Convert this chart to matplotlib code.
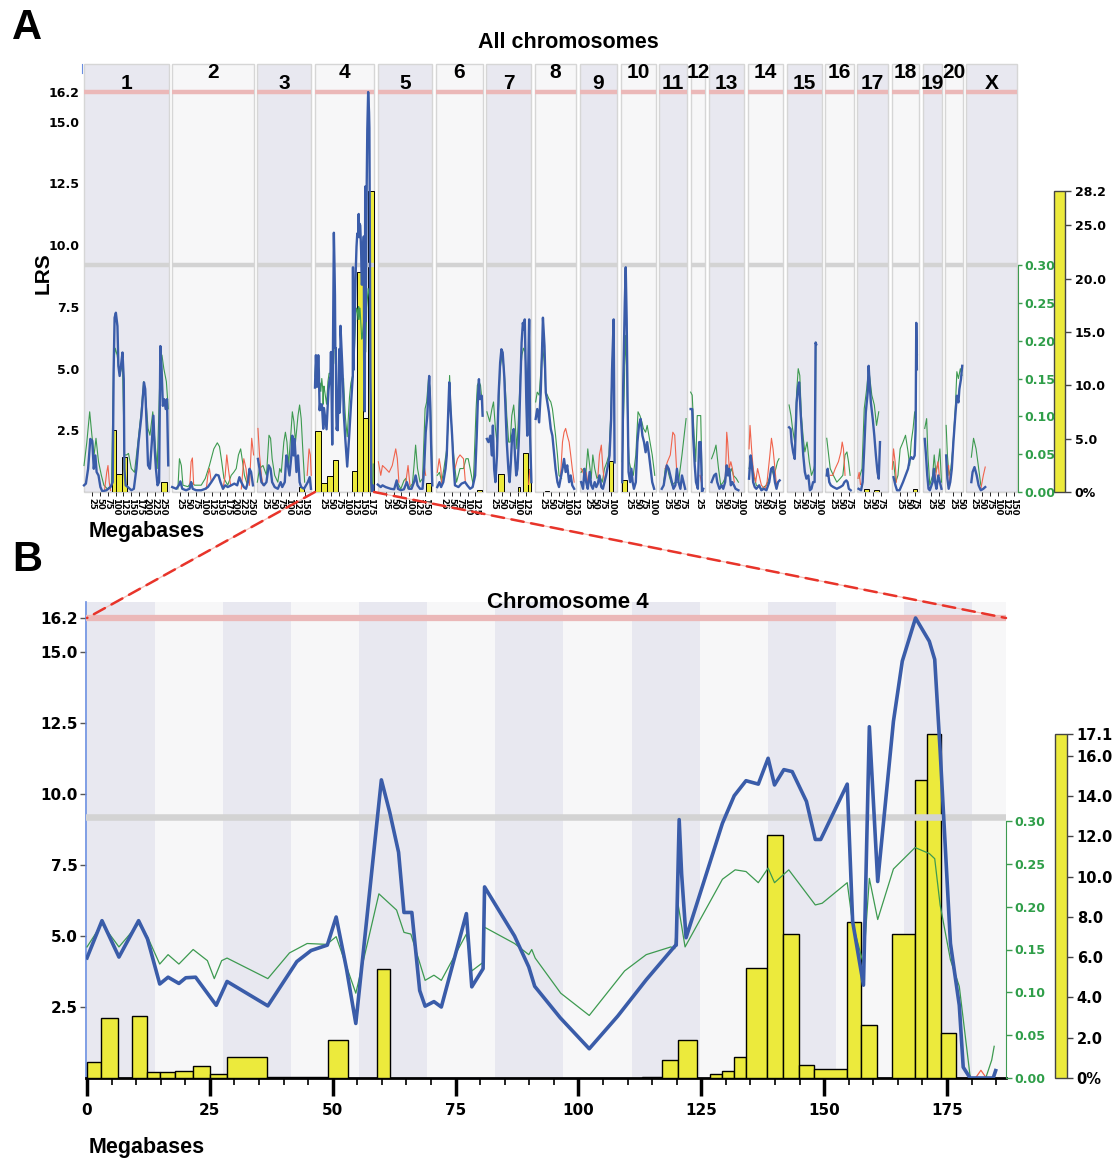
import numpy as np
import matplotlib
matplotlib.use("Agg")
import matplotlib.pyplot as plt
from matplotlib.patches import Rectangle, ConnectionPatch
from matplotlib.ticker import MultipleLocator

nan = float("nan")

# ------------------------------------------------------------------ data
chrom_names = ['1', '2', '3', '4', '5', '6', '7', '8', '9', '10', '11', '12',
               '13', '14', '15', '16', '17', '18', '19', '20', 'X']
chrom_len_mb = [267.9, 258.2, 171.1, 187.4, 173.1, 147.6, 143.0, 129.5, 118.7,
                110.7, 87.8, 46.8, 111.2, 112.2, 109.8, 90.2, 97.3, 87.3, 59.2,
                55.3, 160.7]

lrs_max = 16.2
lrs_suggestive = 9.18
boot_max_all = 28.2
boot_max_chr4 = 17.1
lrs_ticks = [2.5, 5.0, 7.5, 10.0, 12.5, 15.0, 16.2]
add_ticks = [0.00, 0.05, 0.10, 0.15, 0.20, 0.25, 0.30]
boot_ticks_all = [0, 5, 10, 15, 20, 25, 28.2]
boot_labels_all = ['0%', '5.0', '10.0', '15.0', '20.0', '25.0', '28.2']
boot_ticks_chr4 = [0, 2, 4, 6, 8, 10, 12, 14, 16, 17.1]
boot_labels_chr4 = ['0%', '2.0', '4.0', '6.0', '8.0', '10.0', '12.0', '14.0', '16.0', '17.1']
chr4_mb_ticks = [0, 25, 50, 75, 100, 125, 150, 175]

# chromosome 4 detail (panel B, also used for chr 4 in panel A)
chr4_lrs_mb = [0, 3.05, 6.5, 10.5, 12.3, 14.8, 16.5, 18.7, 20.1, 22.1, 26.3, 28.5, 36.8,
               42.7, 45.6, 48.9, 50.7, 52.8, 54.7, 59.9, 61.6, 63.4, 64.5, 66.1, 67.7,
               68.8, 70.6, 72.1, 77.2, 78.3, 80.6, 80.9, 87.0, 89.9, 91.1, 96.3, 102.2,
               108.0, 113.8, 119.6, 119.9, 120.5, 121.0, 121.9, 129.3, 131.7, 134.1,
               136.6, 138.6, 139.9, 141.8, 143.5, 146.4, 148.2, 149.3, 154.7, 155.8,
               158.0, 159.2, 160.9, 164.1, 165.9, 168.6, 171.4, 172.5, 173.6, 175.7,
               177.5, 178.3, 179.7, 184.4, 184.9]
chr4_lrs = [4.23, 5.54, 4.26, 5.54, 4.9, 3.31, 3.55, 3.33, 3.53, 3.55, 2.56, 3.40, 2.54,
            4.10, 4.49, 4.68, 5.67, 3.85, 1.92, 10.5, 9.36, 7.95, 5.83, 5.83, 3.08,
            2.53, 2.69, 2.5, 5.79, 3.21, 3.85, 6.73, 5.0, 3.91, 3.23, 2.12, 1.03,
            2.18, 3.46, 4.64, 4.68, 9.10, 7.18, 4.94, 8.97, 9.94, 10.47,
            10.35, 11.26, 10.32, 10.86, 10.79, 9.74, 8.40, 8.40, 10.35, 5.51,
            3.27, 12.37, 6.92, 12.56, 14.68, 16.2, 15.38, 14.74, 11.54, 4.74,
            2.56, 0.38, 0.0, 0.0, 0.26]
chr4_add_mb = [0, 3.05, 6.5, 10.5, 12.3, 14.8, 16.5, 18.7, 21.6, 24.5, 25.9, 27.4, 28.5,
               36.8, 41.2, 44.8, 48.8, 50.7, 54.7, 59.4, 63.0, 64.5, 65.9, 68.8, 70.6,
               72.1, 77.2, 78.3, 80.6, 80.9, 87.0, 89.9, 90.5, 91.2, 96.4, 102.2, 109.4,
               113.8, 118.8, 119.6, 120.3, 121.7, 129.3, 131.9, 134.1, 136.6, 138.6,
               139.9, 142.8, 148.2, 149.6, 154.7, 155.8, 158.0, 159.2, 160.9, 164.1,
               168.5, 171.4, 172.5, 173.6, 175.7, 177.5, 179.7, nan, 183.0, 184.1, 184.6]
chr4_add = [0.153, 0.180, 0.153, 0.180, 0.165, 0.133, 0.144, 0.133, 0.150, 0.137, 0.116,
            0.137, 0.140, 0.116, 0.146, 0.157, 0.156, 0.165, 0.099, 0.215, 0.196, 0.170,
            0.168, 0.114, 0.120, 0.114, 0.168, 0.125, 0.135, 0.176, 0.157, 0.144, 0.150,
            0.140, 0.099, 0.073, 0.125, 0.144, 0.153, 0.151, 0.202, 0.153, 0.232, 0.243,
            0.241, 0.228, 0.245, 0.228, 0.243, 0.202, 0.204, 0.228, 0.180, 0.133, 0.233,
            0.185, 0.244, 0.269, 0.262, 0.256, 0.202, 0.138, 0.107, 0.002, nan, 0.002,
            0.021, 0.037]
chr4_neg_mb = [180.8, 181.9, 183.0]
chr4_neg = [0.0, 0.009, 0.0]
chr4_boot_start = [0.0, 2.83, 9.23, 12.28, 14.83, 17.95, 21.58, 25.07, 28.49, 36.70, 49.05,
                   59.0, 113.0, 117.0, 120.3, 126.7, 129.2, 131.7, 134.1, 138.4, 141.7,
                   144.9, 148.0, 154.6, 157.6, 163.9, 168.5, 171.0, 173.7]
chr4_boot_end = [2.83, 6.32, 12.28, 14.83, 17.95, 21.58, 25.07, 28.49, 36.70, 49.05, 53.2,
                 61.7, 117.0, 120.3, 124.1, 129.2, 131.7, 134.1, 138.4, 141.7, 144.9,
                 148.0, 154.6, 157.6, 160.7, 168.5, 171.0, 173.7, 176.8]
chr4_boot_pct = [0.79, 2.96, 3.07, 0.31, 0.31, 0.37, 0.59, 0.18, 1.06, 0.05, 1.88,
                 5.39, 0.05, 0.91, 1.90, 0.18, 0.37, 1.06, 5.45, 12.07, 7.17,
                 0.64, 0.46, 7.74, 2.65, 7.17, 14.78, 17.1, 2.23]

# genome-wide scan (panel A): (Mb, LRS), (Mb, additive +), (Mb, additive -), bootstrap bins (start, end, %)
lrs_chr1 = [(0, 0.27), (6, 0.34), (13, 0.94), (20, 2.15), (26, 2.08), (31, 0.94), (36, 1.48), (40, 0.81),
            (46, 0.67), (52, 0.2), (58, 0.03), (71, 0.07), (84, 0.2), (91, 0.4), (94, 4.97), (97, 7.06),
            (101, 7.26), (106, 6.72), (109, 5.1), (113, 4.7), (117, 5.1), (122, 5.65), (126, 4.57),
            (128, 0.94), (132, 0.27), (139, 0.2), (150, 0.07), (158, 0.13), (166, 0.94), (173, 2.02),
            (182, 3.09), (190, 4.44), (194, 4.17), (199, 2.55), (203, 1.08), (209, 0.94), (215, 2.02),
            (220, 3.09), (224, 1.75), (228, 0.94), (233, 0.27), (238, 0.4), (242, 5.91), (246, 4.97),
            (250, 3.49), (254, 3.76), (259, 3.36), (263, 3.76), (267, 1.08)]
add_chr1 = [(0, 0.035), (9, 0.066), (18, 0.106), (25, 0.075), (32, 0.049), (38, 0.071), (46, 0.04),
            (55, 0.022), (63, 0.009), (74, 0.004), (87, 0.009), (94, 0.172), (99, 0.19), (105, 0.181),
            (110, 0.163), (116, 0.159), (122, 0.168), (128, 0.049), (135, 0.049), (141, 0.051),
            (150, 0.031), (160, 0.026), (171, 0.066), (180, 0.101), (189, 0.146), (196, 0.123),
            (203, 0.084), (209, 0.075), (218, 0.106), (224, 0.071), (232, 0.031), (241, 0.159),
            (247, 0.181), (253, 0.163), (261, 0.146), (267, 0.110)]
neg_chr1 = [(65, 0.002), (72, 0.026), (76, 0.035), (80, 0.013), (84, 0.002)]
boot_chr1 = [(88.7, 102.4, 5.8), (102.4, 120.4, 1.7), (120.4, 136.2, 3.3), (242.9, 264.0, 0.93)]

lrs_chr2 = [(0, 0.2), (13, 0.13), (21, 0.27), (26, 0.43), (32, 0.13), (44, 0.07), (55, 0.13), (60, 0.4),
            (65, 0.13), (76, 0.07), (92, 0.07), (105, 0.13), (113, 0.2), (124, 0.4), (139, 0.7),
            (147, 0.67), (153, 0.4), (161, 0.13), (168, 0.27), (176, 0.2), (187, 0.27), (197, 0.34),
            (206, 0.27), (213, 0.6), (219, 0.4), (227, 0.2), (234, 0.13), (240, 0.4), (245, 0.94),
            (250, 0.81), (256, 0.27)]
add_chr2 = [(18, 0.004), (23, 0.044), (29, 0.035), (34, 0.009), (50, 0.007), (60, 0.013), (71, 0.009),
            (92, 0.009), (105, 0.018), (118, 0.035), (132, 0.057), (143, 0.065), (150, 0.06),
            (157, 0.04), (164, 0.018), (176, 0.009), (187, 0.022), (195, 0.026), (203, 0.031),
            (210, 0.049), (217, 0.057), (223, 0.04), (229, 0.022), (237, 0.011), (245, 0.031)]
neg_chr2 = [(55, 0.004), (60, 0.04), (64, 0.045), (68, 0.01), (nan, nan),
            (108, 0.004), (113, 0.022), (118, 0.031), (124, 0.013), (nan, nan),
            (161, 0.004), (168, 0.022), (173, 0.049), (178, 0.031), (185, 0.009), (nan, nan),
            (219, 0.004), (227, 0.044), (234, 0.031), (239, 0.009), (nan, nan),
            (245, 0.009), (252, 0.071), (258, 0.049)]
boot_chr2 = []

lrs_chr3 = [(2, 1.34), (7, 0.94), (13, 0.4), (21, 0.27), (29, 0.4), (36, 1.08), (42, 0.94), (47, 0.4),
            (55, 0.2), (65, 0.13), (74, 0.4), (79, 0.2), (87, 0.4), (92, 1.48), (97, 1.08), (102, 0.67),
            (108, 1.48), (111, 2.28), (115, 1.48), (118, 2.15), (124, 0.81), (129, 1.48), (134, 0.4),
            (139, 0.2), (148, 0.13), (160, 0.4), (166, 0.6), (170, 0.13)]
add_chr3 = [(0, 0.013), (7, 0.031), (18, 0.035), (29, 0.022), (37, 0.075), (42, 0.071), (47, 0.044),
            (55, 0.022), (65, 0.013), (71, 0.031), (76, 0.026), (84, 0.066), (89, 0.079), (94, 0.066),
            (99, 0.035), (106, 0.075), (111, 0.106), (116, 0.093), (121, 0.066), (129, 0.101),
            (134, 0.115), (139, 0.097), (145, 0.049), (150, 0.013)]
neg_chr3 = [(2, 0.084), (7, 0.049), (13, 0.022), (18, 0.009), (nan, nan),
            (158, 0.022), (164, 0.057), (168, 0.049), (171, 0.022)]
boot_chr3 = [(131, 148, 0.47)]

boot_chr4 = [(0, 18.7, 5.67), (18.7, 37.5, 0.8), (37.5, 56, 1.5), (56, 72, 3.0), (116, 133, 1.93),
             (133, 151, 20.6), (151, 169, 6.95), (169, 187.4, 28.2)]

lrs_chr5 = [(0, 0.3), (9.5, 0.2), (15, 0.27), (25, 0.2), (41, 0.13), (52, 0.11), (60, 0.47), (64, 0.13),
            (73, 0.07), (83, 0.11), (92, 0.4), (99, 0.13), (107, 0.13), (115, 0.4), (120, 0.67),
            (126, 0.27), (134, 0.13), (142, 0.13), (147, 0.94), (152, 2.42), (157, 3.09), (163, 4.7),
            (166, 3.63), (170, 1.48), (173, 0.27)]
add_chr5 = [(62, 0.013), (73, 0.004), (83, 0.015), (89, 0.018), (96, 0.004), (110, 0.011), (115, 0.035),
            (120, 0.062), (126, 0.031), (134, 0.013), (142, 0.018), (150, 0.110), (155, 0.119),
            (161, 0.150), (166, 0.137), (170, 0.066), (173, 0.022)]
neg_chr5 = [(2, 0.04), (9.5, 0.022), (15, 0.035), (25, 0.031), (36, 0.026), (46, 0.035), (57, 0.057),
            (62, 0.044), (67, 0.013), (nan, nan), (89, 0.013), (96, 0.035), (102, 0.009), (nan, nan),
            (142, 0.013), (147, 0.035), (152, 0.022)]
boot_chr5 = [(152, 170, 0.84)]

lrs_chr6 = [(4, 0.2), (11, 0.4), (16, 0.2), (23, 0.4), (30, 0.94), (34, 1.48), (39, 3.36), (42, 4.44),
            (46, 3.36), (51, 2.28), (55, 1.21), (60, 0.27), (71, 0.2), (81, 0.34), (92, 0.4), (99, 0.27),
            (108, 0.13), (116, 0.2), (124, 0.67), (129, 2.28), (133, 3.9), (136, 4.57), (139, 3.76),
            (145, 3.9), (147.6, 3.09)]
add_chr6 = [(4, 0.022), (11, 0.026), (18, 0.013), (25, 0.031), (34, 0.057), (38, 0.088), (43, 0.154),
            (48, 0.097), (53, 0.062), (59, 0.035), (65, 0.013), (76, 0.031), (87, 0.031), (95, 0.044),
            (102, 0.044), (108, 0.031), (118, 0.009), (127, 0.110), (131, 0.141), (136, 0.146),
            (141, 0.141), (146, 0.119)]
neg_chr6 = [(4, 0.026), (10, 0.044), (15, 0.031), (19, 0.009), (nan, nan),
            (60, 0.031), (68, 0.044), (76, 0.049), (87, 0.044), (93, 0.013)]
boot_chr6 = [(129, 145, 0.16)]

lrs_chr7 = [(2, 2.15), (7, 2.02), (13, 2.28), (18, 1.48), (21, 2.69), (25, 0.94), (29, 0.4), (34, 1.48),
            (39, 3.9), (44, 5.24), (48, 5.78), (52, 5.65), (57, 4.7), (61, 3.36), (65, 2.02), (70, 0.94),
            (74, 0.4), (78, 1.21), (82, 2.28), (87, 2.55), (91, 1.48), (95, 0.67), (99, 0.94),
            (103, 2.02), (107, 3.9), (112, 6.05), (116, 6.85), (119, 6.59), (122, 6.99), (127, 3.63),
            (130, 2.28), (133, 4.97), (136, 6.99), (139, 2.28), (143, 0.4)]
add_chr7 = [(2, 0.106), (11, 0.093), (18, 0.110), (23, 0.119), (29, 0.084), (34, 0.066), (39, 0.110),
            (44, 0.163), (50, 0.181), (55, 0.168), (60, 0.141), (65, 0.101), (71, 0.066), (76, 0.066),
            (81, 0.101), (87, 0.115), (92, 0.088), (97, 0.057), (102, 0.097), (108, 0.154),
            (113, 0.181), (118, 0.19), (123, 0.185), (129, 0.137), (134, 0.110), (139, 0.062),
            (143, 0.022)]
neg_chr7 = [(134, 0.01), (138, 0.03), (142, 0.02)]
boot_chr7 = [(37, 55, 1.7), (100, 108, 0.47), (115, 132, 3.7), (132, 143, 2.2)]

lrs_chr8 = [(2, 2.96), (7, 3.36), (13, 2.82), (18, 4.03), (22, 5.65), (25, 7.06), (30, 5.91), (34, 4.03),
            (39, 3.63), (44, 3.23), (50, 2.55), (55, 2.28), (60, 1.61), (65, 0.94), (71, 0.4), (76, 0.2),
            (81, 0.54), (87, 0.94), (92, 1.34), (97, 0.81), (102, 1.08), (108, 0.4), (113, 0.67),
            (118, 0.27), (124, 0.13)]
add_chr8 = [(2, 0.119), (7, 0.132), (13, 0.128), (19, 0.163), (23, 0.198), (29, 0.172), (34, 0.132),
            (39, 0.128), (44, 0.123), (50, 0.119), (55, 0.110), (60, 0.093), (65, 0.075), (71, 0.049),
            (76, 0.022), (84, 0.018)]
neg_chr8 = [(81, 0.022), (87, 0.066), (92, 0.079), (97, 0.084), (102, 0.075), (108, 0.066),
            (113, 0.049), (118, 0.031), (124, 0.013)]
boot_chr8 = [(30, 45, 0.12)]

lrs_chr9 = [(5, 0.4), (11, 0.13), (16, 0.94), (21, 0.4), (26, 0.13), (32, 0.81), (37, 0.27), (42, 0.13),
            (48, 0.4), (53, 0.2), (58, 0.34), (63, 0.67), (69, 0.2), (74, 0.13), (79, 0.4), (84, 0.67),
            (90, 1.08), (95, 1.48), (100, 2.96), (103, 4.97), (108, 6.99), (111, 1.2)]
add_chr9 = [(5, 0.026), (13, 0.031), (19, 0.018), (26, 0.057), (32, 0.035), (37, 0.018), (42, 0.049),
            (48, 0.031), (55, 0.018), (63, 0.022), (72, 0.013), (79, 0.031), (87, 0.04), (93, 0.049),
            (99, 0.101), (103, 0.163), (109, 0.225)]
neg_chr9 = [(5, 0.031), (11, 0.026), (16, 0.02), (21, 0.026), (26, 0.013), (nan, nan),
            (58, 0.02), (63, 0.049), (69, 0.062), (74, 0.031), (79, 0.013)]
boot_chr9 = [(93, 106, 2.9)]

lrs_chr10 = [(5, 0.4), (8, 4.3), (13, 7.66), (16, 9.1), (19, 6.99), (22, 3.63), (25, 0.81), (30, 0.4),
             (34, 0.94), (38, 0.4), (42, 0.13), (48, 0.4), (53, 2.02), (58, 2.69), (63, 2.96),
             (69, 2.28), (74, 2.02), (79, 1.61), (84, 2.02), (90, 1.48), (95, 0.94), (100, 0.4),
             (106, 0.13)]
add_chr10 = [(5, 0.04), (11, 0.128), (15, 0.207), (19, 0.163), (23, 0.075), (27, 0.04), (32, 0.031),
             (40, 0.022), (48, 0.049), (55, 0.106), (61, 0.101), (67, 0.093), (72, 0.084), (79, 0.079),
             (84, 0.088), (93, 0.066), (100, 0.049), (108, 0.022)]
neg_chr10 = []
boot_chr10 = [(5, 21, 1.1)]

lrs_chr11 = [(8, 0.13), (14, 0.27), (19, 0.67), (24, 1.08), (30, 0.94), (35, 0.67), (40, 0.4), (45, 0.13),
             (51, 0.27), (56, 0.94), (61, 0.4), (67, 0.13), (72, 0.67), (77, 0.4), (82, 0.13)]
add_chr11 = [(14, 0.013), (19, 0.031), (24, 0.035), (31, 0.022), (40, 0.009), (51, 0.013), (61, 0.013),
             (72, 0.049), (79, 0.075), (85, 0.097)]
neg_chr11 = [(19, 0.031), (26, 0.04), (35, 0.049), (43, 0.079), (49, 0.075), (56, 0.022)]
boot_chr11 = []

lrs_chr12 = [(0, 3.36), (5, 3.36), (8, 2.28), (13, 1.08), (17, 0.4), (23, 0.13), (27, 2.02), (32, 2.02),
             (36, 0.0), (40, 0.13)]
add_chr12 = [(0, 0.132), (5, 0.128), (11, 0.075), (16, 0.04), (21, 0.101), (26, 0.101), (32, 0.101),
             (36, 0.022)]
neg_chr12 = [(30, 0.022), (34, 0.013)]
boot_chr12 = []

lrs_chr13 = [(8, 0.4), (16, 0.67), (22, 0.74), (26, 0.4), (33, 0.13), (40, 0.27), (45, 0.13), (51, 0.4),
             (56, 1.08), (60, 0.67), (64, 0.94), (69, 0.27), (74, 0.4), (79, 0.27), (84, 0.13), (93, 0.07)]
add_chr13 = [(8, 0.044), (16, 0.053), (22, 0.062), (30, 0.031), (37, 0.009), (45, 0.013), (54, 0.022),
             (59, 0.035), (64, 0.022), (72, 0.031), (77, 0.022), (86, 0.018), (93, 0.013)]
neg_chr13 = [(51, 0.013), (54, 0.049), (56, 0.079), (59, 0.066), (64, 0.031), (69, 0.04), (74, 0.031),
             (80, 0.013)]
boot_chr13 = []

lrs_chr14 = [(4, 0.54), (9, 1.48), (13, 1.08), (17, 0.4), (22, 0.2), (27, 0.13), (36, 0.27), (43, 0.07),
             (51, 0.13), (59, 0.07), (68, 0.4), (74, 0.94), (80, 1.01), (86, 0.4), (91, 0.13), (96, 0.4),
             (101, 0.47)]
add_chr14 = [(4, 0.031), (12, 0.044), (19, 0.022), (27, 0.009), (43, 0.004), (59, 0.009), (68, 0.018),
             (75, 0.031), (82, 0.022), (89, 0.031), (94, 0.04), (99, 0.044)]
neg_chr14 = [(4, 0.057), (7, 0.088), (12, 0.057), (17, 0.031), (25, 0.013), (31, 0.031), (36, 0.022),
             (43, 0.009), (54, 0.004), (61, 0.013), (70, 0.049), (75, 0.071), (80, 0.057), (86, 0.031),
             (91, 0.009)]
boot_chr14 = []

lrs_chr15 = [(7, 2.62), (12, 2.55), (15, 2.02), (20, 1.61), (25, 1.34), (31, 3.63), (36, 4.3), (39, 4.44),
             (43, 3.36), (48, 2.28), (52, 1.48), (57, 0.81), (62, 0.54), (68, 0.67), (73, 0.07),
             (78, 0.13), (83, 0.4), (88, 0.4), (91, 6.05), (93, 5.98)]
add_chr15 = [(7, 0.115), (13, 0.101), (18, 0.084), (25, 0.066), (31, 0.132), (36, 0.163), (41, 0.154),
             (46, 0.101), (52, 0.071), (57, 0.053), (64, 0.066), (71, 0.04), (78, 0.022), (86, 0.031),
             (90, 0.04), (92, 0.198)]
neg_chr15 = []
boot_chr15 = []

lrs_chr16 = [(5, 0.67), (8, 0.94), (13, 0.4), (18, 0.27), (26, 0.2), (37, 0.13), (48, 0.2), (56, 0.27),
             (61, 0.4), (67, 0.47), (71, 0.4), (75, 0.13), (81, 0.07)]
add_chr16 = [(5, 0.071), (11, 0.049), (16, 0.031), (26, 0.022), (37, 0.013), (48, 0.018), (56, 0.022),
             (63, 0.049), (69, 0.053), (74, 0.04), (79, 0.022)]
neg_chr16 = [(16, 0.022), (24, 0.022), (32, 0.031), (42, 0.04), (50, 0.053), (54, 0.066), (58, 0.057),
             (63, 0.022)]
boot_chr16 = []

lrs_chr17 = [(4, 0.13), (12, 0.07), (17, 0.4), (22, 1.75), (27, 3.23), (33, 4.03), (36, 5.11), (39, 4.44),
             (43, 3.63), (49, 2.96), (54, 2.28), (59, 1.48), (64, 0.81), (68, 0.54), (72, 2.02)]
add_chr17 = [(6, 0.018), (15, 0.031), (22, 0.110), (30, 0.137), (36, 0.163), (40, 0.150), (46, 0.128),
             (54, 0.115), (61, 0.088), (68, 0.106)]
neg_chr17 = [(2, 0.018), (6, 0.026), (10, 0.01)]
boot_chr17 = [(22, 38, 0.25), (54, 70, 0.16)]

lrs_chr18 = [(6, 0.6), (12, 0.27), (17, 0.07), (25, 0.07), (36, 0.4), (44, 0.67), (52, 0.94), (57, 1.28),
             (62, 1.41), (68, 1.34), (73, 1.48), (76, 2.55), (78, 6.85), (80, 4.97)]
add_chr18 = [(6, 0.04), (13, 0.013), (20, 0.022), (27, 0.057), (36, 0.066), (44, 0.075), (52, 0.053),
             (57, 0.035), (62, 0.066), (68, 0.084), (73, 0.106), (76, 0.093), (79, 0.176), (82, 0.181)]
neg_chr18 = [(2, 0.03), (6, 0.057), (11, 0.04), (15, 0.013)]
boot_chr18 = [(68, 81, 0.31)]

lrs_chr19 = [(6, 2.15), (10, 1.48), (14, 0.67), (18, 0.13), (22, 0.07), (31, 0.4), (35, 0.94), (39, 0.4),
             (43, 0.13), (49, 0.67), (54, 0.4), (59, 0.13)]
add_chr19 = [(6, 0.084), (12, 0.097), (16, 0.049), (22, 0.009), (31, 0.022), (36, 0.049), (41, 0.026),
             (49, 0.04), (54, 0.057), (59, 0.013)]
neg_chr19 = [(38, 0.013), (44, 0.031), (48, 0.04), (52, 0.022)]
boot_chr19 = []

lrs_chr20 = [(3, 1.48), (7, 0.54), (11, 0.13), (16, 0.4), (21, 0.94), (26, 2.02), (32, 3.09), (37, 3.9),
             (42, 3.63), (45, 4.17), (50, 4.57), (54, 5.11)]
add_chr20 = [(3, 0.088), (7, 0.049), (12, 0.022), (18, 0.031), (24, 0.057), (32, 0.110), (37, 0.159),
             (42, 0.150), (48, 0.163), (53, 0.154)]
neg_chr20 = [(5, 0.031), (11, 0.035), (14, 0.009)]
boot_chr20 = []

lrs_chrX = [(16, 0.4), (20, 0.81), (26, 1.01), (33, 0.67), (39, 0.27), (46, 0.07), (54, 0.13), (60, 0.2)]
add_chrX = [(16, 0.046), (23, 0.071), (31, 0.057), (38, 0.035), (46, 0.009)]
neg_chrX = [(46, 0.004), (54, 0.022), (60, 0.033)]
boot_chrX = []

# ------------------------------------------------------------------ assemble
lrs_all = [lrs_chr1, lrs_chr2, lrs_chr3, list(zip(chr4_lrs_mb, chr4_lrs)), lrs_chr5, lrs_chr6,
           lrs_chr7, lrs_chr8, lrs_chr9, lrs_chr10, lrs_chr11, lrs_chr12, lrs_chr13, lrs_chr14,
           lrs_chr15, lrs_chr16, lrs_chr17, lrs_chr18, lrs_chr19, lrs_chr20, lrs_chrX]
add_all = [add_chr1, add_chr2, add_chr3, list(zip(chr4_add_mb, chr4_add)), add_chr5, add_chr6,
           add_chr7, add_chr8, add_chr9, add_chr10, add_chr11, add_chr12, add_chr13, add_chr14,
           add_chr15, add_chr16, add_chr17, add_chr18, add_chr19, add_chr20, add_chrX]
neg_all = [neg_chr1, neg_chr2, neg_chr3, list(zip(chr4_neg_mb, chr4_neg)), neg_chr5, neg_chr6,
           neg_chr7, neg_chr8, neg_chr9, neg_chr10, neg_chr11, neg_chr12, neg_chr13, neg_chr14,
           neg_chr15, neg_chr16, neg_chr17, neg_chr18, neg_chr19, neg_chr20, neg_chrX]
boot_all = [boot_chr1, boot_chr2, boot_chr3, boot_chr4, boot_chr5, boot_chr6, boot_chr7, boot_chr8,
            boot_chr9, boot_chr10, boot_chr11, boot_chr12, boot_chr13, boot_chr14, boot_chr15,
            boot_chr16, boot_chr17, boot_chr18, boot_chr19, boot_chr20, boot_chrX]

# ------------------------------------------------------------------ style
BLUE = '#3a5ca9'
GREEN = '#3d9a50'
GREEN_TXT = '#2f9e49'
RED = '#f0634c'
YELLOW = '#ecea3c'
DARK = '#e8e8f0'
LIGHT = '#f7f7f8'
PINK = '#ebb8b8'
GRAY = '#d3d3d3'
AXBLUE = '#6a8de0'
FT = 'Liberation Sans'
FN = 'DejaVu Sans'

W, H = 1119, 1160
fig = plt.figure(figsize=(W / 100, H / 100), dpi=100)
fig.patch.set_facecolor('white')


def frame(x0, y0, x1, y1):
    return [x0 / W, 1 - y1 / H, (x1 - x0) / W, (y1 - y0) / H]


# ================================================================== panel A
gap = 11.6
offsets = []
pos = 0.0
for L in chrom_len_mb:
    offsets.append(pos)
    pos += L + gap
x_end = offsets[-1] + chrom_len_mb[-1]
ppm = (1017 - 84) / x_end

A_base, A_top = 492, 64
axA = fig.add_axes(frame(82, A_top, 1018, A_base))
axA_bar = axA.twinx()
axA_add = axA.twinx()
axA_top = axA.twinx()
for z, a in enumerate([axA, axA_bar, axA_add, axA_top]):
    a.set_zorder(z + 1)
    if z > 0:
        a.patch.set_visible(False)
axA.patch.set_visible(False)

yA = lrs_max * (A_base - A_top) / (A_base - 92)
axA.set_xlim(-2 / ppm, x_end + 1 / ppm)
axA.set_ylim(0, yA)
axA_top.set_ylim(0, yA)
axA_bar.set_ylim(0, boot_max_all * (A_base - A_top) / (A_base - 191))
axA_add.set_ylim(0, 0.30 * (A_base - A_top) / (A_base - 265))

for a in [axA, axA_bar, axA_add, axA_top]:
    for s in a.spines.values():
        s.set_visible(False)
for a in [axA_bar, axA_top]:
    a.set_yticks([])
    a.tick_params(axis='x', length=0, labelbottom=False)
axA_add.tick_params(axis='x', length=0, labelbottom=False)

# chromosome columns
for i, (o, L) in enumerate(zip(offsets, chrom_len_mb)):
    axA.add_patch(Rectangle((o, 0), L, yA, facecolor=DARK if i % 2 == 0 else LIGHT,
                            edgecolor='#d6d6d6', lw=1.0, clip_on=False, zorder=0))

# bootstrap bars
for o, bins in zip(offsets, boot_all):
    for s, e, p in bins:
        axA_bar.bar(o + s, p, width=e - s, align='edge', color=YELLOW,
                    edgecolor='black', lw=0.7, zorder=2)

# reference lines, baselines, chromosome labels
for i, (o, L, name) in enumerate(zip(offsets, chrom_len_mb, chrom_names)):
    axA_top.plot([o, o + L], [lrs_max, lrs_max], color=PINK, lw=3.2, solid_capstyle='butt', zorder=1)
    axA_top.plot([o, o + L], [lrs_suggestive, lrs_suggestive], color=GRAY, lw=3.2,
                 solid_capstyle='butt', zorder=1)
    axA_top.plot([o, o + L], [0, 0], color='#555555', lw=0.8, zorder=1)
    ylab = 16.56 if i % 2 == 0 else 16.99
    axA_top.text(o + L / 2, ylab, name, ha='center', va='center', fontsize=15,
                 fontweight='bold', family=FT, clip_on=False, zorder=5)

# scan lines
for o, pts in zip(offsets, add_all):
    arr = np.array(pts, dtype=float)
    axA_add.plot(o + arr[:, 0], arr[:, 1], color=GREEN, lw=0.8, zorder=3)
for o, pts in zip(offsets, neg_all):
    if len(pts):
        arr = np.array(pts, dtype=float)
        axA_add.plot(o + arr[:, 0], arr[:, 1], color=RED, lw=0.8, zorder=3)
for o, pts in zip(offsets, lrs_all):
    arr = np.array(pts, dtype=float)
    axA_top.plot(o + arr[:, 0], arr[:, 1], color=BLUE, lw=1.7, zorder=4)

# x ticks (Mb within chromosome)
tick_pos, tick_lab = [], []
for o, L in zip(offsets, chrom_len_mb):
    for m in range(25, int(L) + 1, 25):
        tick_pos.append(o + m)
        tick_lab.append(str(m))
axA.set_xticks(tick_pos)
axA.set_xticklabels(tick_lab, rotation=-90, fontsize=6, fontweight='bold', family=FN)
axA.tick_params(axis='x', length=3, width=0.6, pad=1.5, colors='black')

axA.set_yticks(lrs_ticks)
axA.set_yticklabels([f'{t:.1f}' for t in lrs_ticks], fontsize=9, fontweight='bold', family=FN)
axA.tick_params(axis='y', length=0, pad=2)
axA.spines['left'].set_visible(True)
axA.spines['left'].set_bounds(yA - 0.35, yA)
axA.spines['left'].set_color(AXBLUE)

axA_add.spines['right'].set_visible(True)
axA_add.spines['right'].set_bounds(0, 0.30)
axA_add.spines['right'].set_color(GREEN)
axA_add.set_yticks(add_ticks)
axA_add.set_yticklabels([f'{t:.2f}' for t in add_ticks], fontsize=9, fontweight='bold',
                        family=FN, color=GREEN_TXT)
axA_add.tick_params(axis='y', length=3, width=1, color=GREEN, pad=1.5)

# bootstrap scale A
axCA = fig.add_axes(frame(1054, 191, 1065, A_base))
axCA.set_xlim(0, 1)
axCA.set_ylim(0, boot_max_all)
axCA.bar([0], [boot_max_all], width=1, align='edge', color=YELLOW, edgecolor='#444444',
         lw=1.0, clip_on=False)
for s in axCA.spines.values():
    s.set_visible(False)
axCA.set_xticks([])
axCA.yaxis.tick_right()
axCA.set_yticks(boot_ticks_all)
axCA.set_yticklabels(boot_labels_all, fontsize=9, fontweight='bold', family=FN)
axCA.tick_params(axis='y', length=4, width=1, color='#444444', pad=3)

fig.text(568 / W, 1 - 43 / H, 'All chromosomes', ha='center', va='center', fontsize=15.5,
         fontweight='bold', family=FT, zorder=10)
fig.text(12 / W, 1 - 39 / H, 'A', ha='left', va='baseline', fontsize=30, fontweight='bold',
         family=FT, zorder=10)
fig.text(43 / W, 1 - 273 / H, 'LRS', rotation=90, ha='center', va='center', fontsize=15,
         fontweight='bold', family=FT, zorder=10)
fig.text(89 / W, 1 - 532 / H, 'Megabases', ha='left', va='center', fontsize=15.5,
         fontweight='bold', family=FT, zorder=10)

# ================================================================== panel B
B_base, B_top = 1078, 602
px_per_mb_B = (947 - 87) / 175
axB = fig.add_axes(frame(86, B_top, 1006, B_base))
axB_bar = axB.twinx()
axB_add = axB.twinx()
axB_top = axB.twinx()
for z, a in enumerate([axB, axB_bar, axB_add, axB_top]):
    a.set_zorder(z + 1)
    if z > 0:
        a.patch.set_visible(False)

yB = lrs_max * (B_base - B_top) / (B_base - 618)
xB_right = (1006 - 87) / px_per_mb_B
axB.set_xlim(-1 / px_per_mb_B, xB_right)
axB.set_ylim(0, yB)
axB_top.set_ylim(0, yB)
axB_bar.set_ylim(0, boot_max_chr4 * (B_base - B_top) / (B_base - 733.5))
axB_add.set_ylim(0, 0.30 * (B_base - B_top) / (B_base - 821))

for a in [axB, axB_bar, axB_add, axB_top]:
    for s in a.spines.values():
        s.set_visible(False)
for a in [axB_bar, axB_top]:
    a.set_yticks([])
    a.tick_params(axis='x', which='both', length=0, labelbottom=False)
axB_add.tick_params(axis='x', which='both', length=0, labelbottom=False)

band_w = 13.85
chr4_len = chrom_len_mb[3]
for k, s in enumerate(np.arange(0, chr4_len, band_w)):
    axB.add_patch(Rectangle((s, 0), min(band_w, chr4_len - s), yB,
                            facecolor=DARK if k % 2 == 0 else LIGHT, lw=0, zorder=0))

axB_bar.bar(chr4_boot_start, chr4_boot_pct,
            width=np.array(chr4_boot_end) - np.array(chr4_boot_start),
            align='edge', color=YELLOW, edgecolor='black', lw=1.0, zorder=2)

axB_top.axhline(lrs_max, color=PINK, lw=4.5, zorder=1)
axB_top.axhline(lrs_suggestive, color=GRAY, lw=4.7, zorder=1)
axB_add.plot(chr4_add_mb, chr4_add, color=GREEN, lw=0.9, zorder=3)
axB_add.plot(chr4_neg_mb, chr4_neg, color=RED, lw=0.9, zorder=3)
axB_top.plot(chr4_lrs_mb, chr4_lrs, color=BLUE, lw=2.6, zorder=4)

axB.spines['bottom'].set_visible(True)
axB.spines['bottom'].set_linewidth(2)
axB.spines['bottom'].set_color('black')
axB.spines['left'].set_visible(True)
axB.spines['left'].set_color(AXBLUE)
axB.spines['left'].set_linewidth(1.2)
axB.set_xticks(chr4_mb_ticks)
axB.set_xticklabels([str(t) for t in chr4_mb_ticks], fontsize=11, fontweight='bold', family=FN)
axB.xaxis.set_minor_locator(MultipleLocator(5))
axB.tick_params(axis='x', which='major', length=13, width=2.5, pad=5, colors='black')
axB.tick_params(axis='x', which='minor', length=5, width=1.2, colors='black')
axB.set_yticks(lrs_ticks)
axB.set_yticklabels([f'{t:.1f}' for t in lrs_ticks], fontsize=11, fontweight='bold', family=FN)
axB.tick_params(axis='y', length=4, width=1, color='#555555', pad=2)

axB_add.spines['right'].set_visible(True)
axB_add.spines['right'].set_bounds(0, 0.30)
axB_add.spines['right'].set_color(GREEN)
axB_add.set_yticks(add_ticks)
axB_add.set_yticklabels([f'{t:.2f}' for t in add_ticks], fontsize=9, fontweight='bold',
                        family=FN, color=GREEN_TXT)
axB_add.tick_params(axis='y', length=4, width=1, color=GREEN, pad=2)

axCB = fig.add_axes(frame(1055, 733.5, 1067, B_base))
axCB.set_xlim(0, 1)
axCB.set_ylim(0, boot_max_chr4)
axCB.bar([0], [boot_max_chr4], width=1, align='edge', color=YELLOW, edgecolor='#444444',
         lw=1.0, clip_on=False)
for s in axCB.spines.values():
    s.set_visible(False)
axCB.set_xticks([])
axCB.yaxis.tick_right()
axCB.set_yticks(boot_ticks_chr4)
axCB.set_yticklabels(boot_labels_chr4, fontsize=10.5, fontweight='bold', family=FN)
axCB.tick_params(axis='y', length=4, width=1, color='#444444', pad=3)

fig.text(568 / W, 1 - 603 / H, 'Chromosome 4', ha='center', va='center', fontsize=16,
         fontweight='bold', family=FT, zorder=10)
fig.text(12 / W, 1 - 571 / H, 'B', ha='left', va='baseline', fontsize=30, fontweight='bold',
         family=FT, zorder=10)
fig.text(89 / W, 1 - 1147 / H, 'Megabases', ha='left', va='center', fontsize=15.5,
         fontweight='bold', family=FT, zorder=10)

# zoom connectors (thin pale line with red dashes over it)
for xa, xb in [(offsets[3], 0.0), (offsets[3] + chrom_len_mb[3], xB_right)]:
    for col, lw, ls in [('#f6c0b8', 0.9, '-'), ('#e8342a', 1.8, (0, (5, 3)))]:
        con = ConnectionPatch(xyA=(xa, 0.0), coordsA='data', axesA=axA_top,
                              xyB=(xb, lrs_max), coordsB='data', axesB=axB_top,
                              color=col, lw=lw, linestyle=ls, zorder=20)
        con.set_annotation_clip(False)
        fig.add_artist(con)

fig.savefig('out.png', dpi=100, facecolor='white')
